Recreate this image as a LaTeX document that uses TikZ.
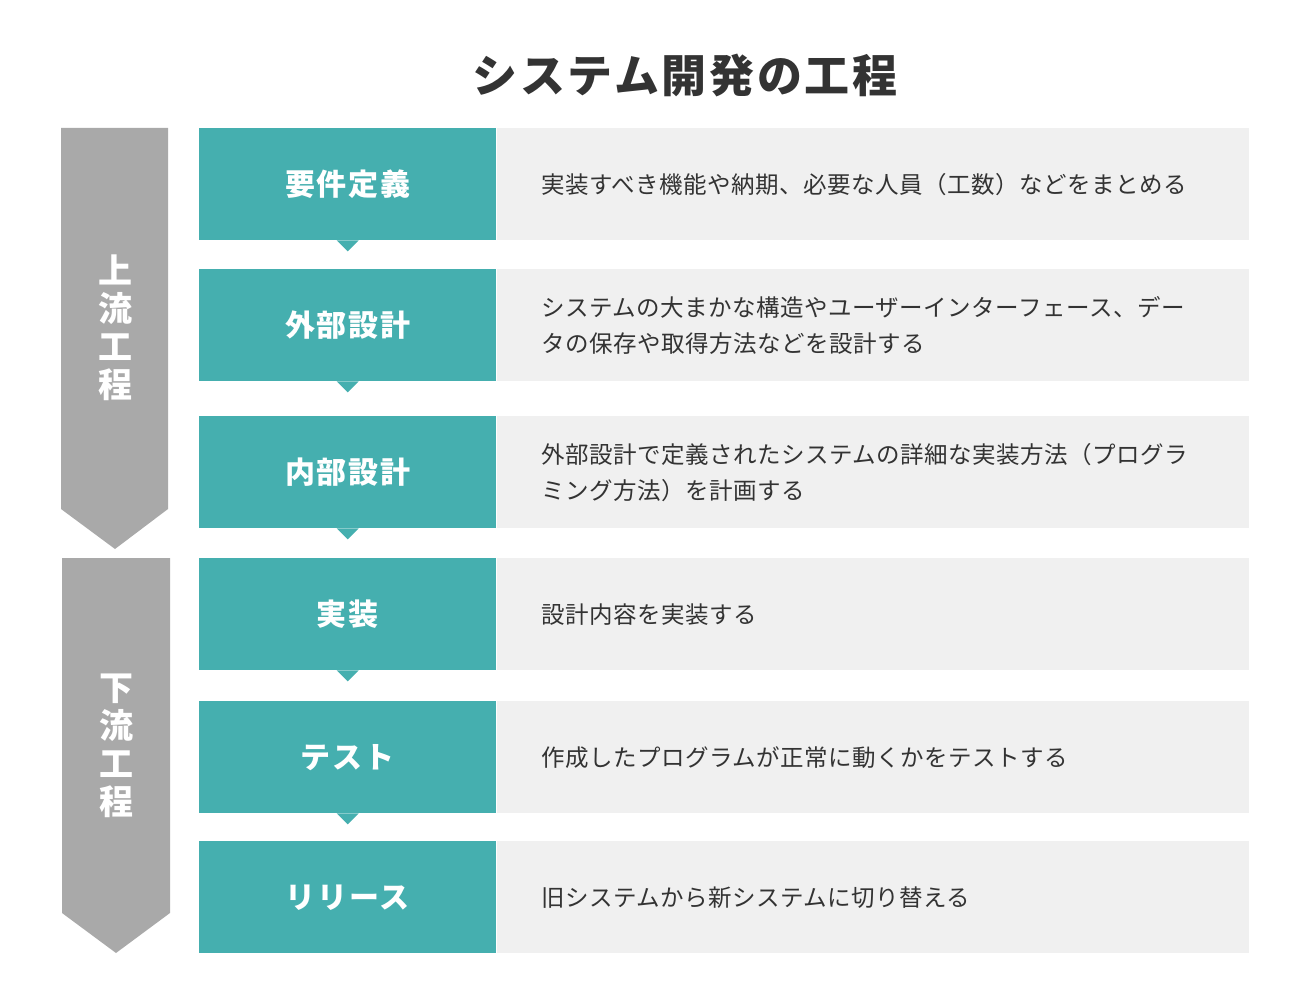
\documentclass[tikz,border=0pt]{standalone}
\usepackage{fontspec}
\setmainfont{Noto Sans CJK JP}
\newfontfamily\descfont[LetterSpace=2]{Noto Sans CJK JP}
\newfontfamily\headfont[LetterSpace=6]{Noto Sans CJK JP}
\usepackage{xcolor}
\usetikzlibrary{positioning,calc}

\definecolor{stepteal}{HTML}{45AFAF}
\definecolor{descgray}{HTML}{F0F0F0}
\definecolor{phasegray}{HTML}{A9A9A9}
\definecolor{inkgray}{HTML}{333333}

\tikzset{
  stepname/.style={fill=stepteal, text=white, minimum width=297pt, minimum height=112pt,
    inner sep=0pt, font=\headfont\fontsize{30}{34}\selectfont\bfseries},
  stepdesc/.style={fill=descgray, text=inkgray, minimum height=112pt, inner ysep=0pt,
    inner xsep=45pt, text width=662pt, align=left, font=\descfont\fontsize{23.5}{36}\selectfont},
  phaselabel/.style={text=white, align=center, inner sep=0pt,
    font=\headfont\fontsize{34}{38}\selectfont\bfseries},
}

\begin{document}
\begin{tikzpicture}[x=1pt,y=-1pt]
    \useasboundingbox (0,0) rectangle (1310,1000);

    % title
    \node[text=inkgray, font=\headfont\fontsize{45}{50}\selectfont\bfseries] (title) at (685,75) {システム開発の工程};

    % phase arrows
    \fill[phasegray] (61,128) -- (168,128) -- (168,509) -- (115,549) -- (61,509) -- cycle;
    \fill[phasegray] (62,558) -- (170,558) -- (170,913) -- (116,953) -- (62,913) -- cycle;
    \node[phaselabel] (upper) at (115,328) {上\\流\\工\\程};
    \node[phaselabel] (lower) at (116,746) {下\\流\\工\\程};

    % steps
    \foreach \i/\top/\name/\desc in {
        1/128/要件定義/{実装すべき機能や納期、必要な人員（工数）などをまとめる},
        2/269/外部設計/{システムの大まかな構造やユーザーインターフェース、デー\\タの保存や取得方法などを設計する},
        3/416/内部設計/{外部設計で定義されたシステムの詳細な実装方法（プログラ\\ミング方法）を計画する},
        4/558/実装/{設計内容を実装する},
        5/701/テスト/{作成したプログラムが正常に動くかをテストする},
        6/841/リリース/{旧システムから新システムに切り替える}} {
        \node[stepname, anchor=north west] (s\i) at (199,\top) {\name};
        \node[stepdesc, right=0pt of s\i] (d\i) {\desc};
    }

    % small pointers under the steps
    \foreach \i in {1,...,5}
        \fill[stepteal] ($(s\i.south)+(-11,0)$) -- ($(s\i.south)+(11,0)$) -- ($(s\i.south)+(0,11)$) -- cycle;
\end{tikzpicture}
\end{document}
